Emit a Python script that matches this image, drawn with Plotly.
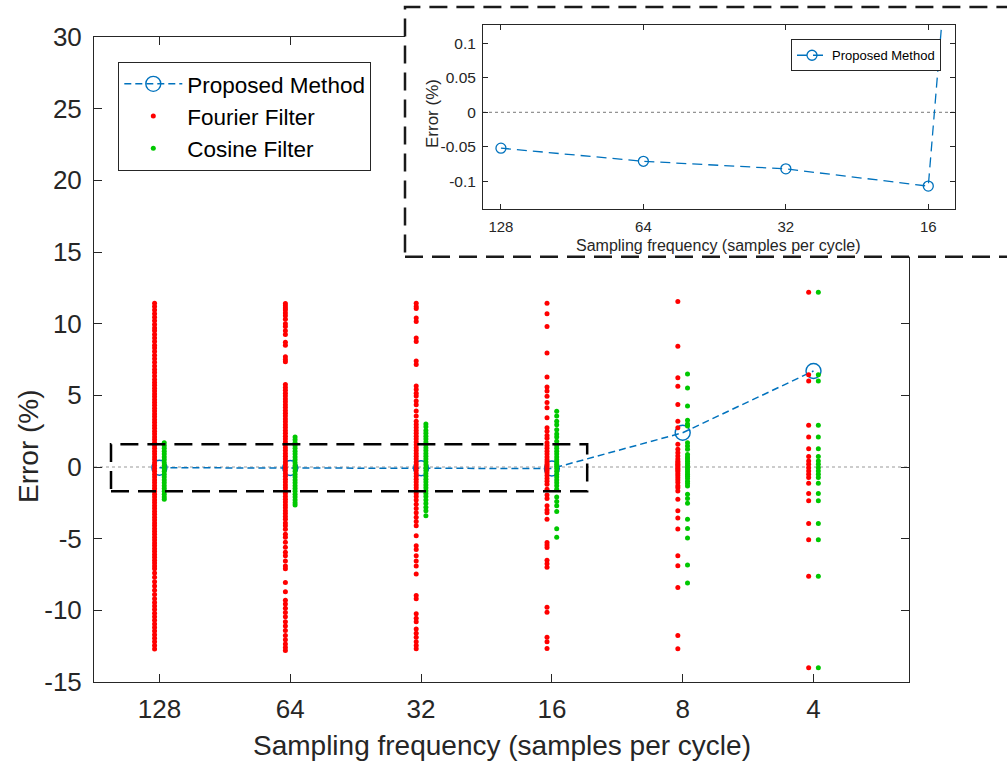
import plotly.graph_objects as go

# ---------------- data ----------------
categories = ["128", "64", "32", "16", "8", "4"]
proposed = [-0.052, -0.071, -0.082, -0.107, 2.39, 6.70]

main_y_ticks = [-15, -10, -5, 0, 5, 10, 15, 20, 25, 30]
main_y_ticktext = ["-15", "-10", "-5", "0", "5", "10", "15", "20", "25", "30"]
inset_y_ticks = [-0.1, -0.05, 0, 0.05, 0.1]
inset_y_ticktext = ["-0.1", "-0.05", "0", "0.05", "0.1"]

fourier_128 = [11.42, 11.2, 10.95, 10.7, 10.45, 10.2, 9.95, 9.7, 9.5, 9.25, 9.0, 8.75, 8.5, 8.3,
               8.05, 7.8, 7.55, 7.3, 7.05, 6.8, 6.6, 6.35, 6.1, 5.9, 5.7, 5.5, 5.3, 5.1, 4.9, 4.7,
               4.5, 4.3, 4.1, 3.9, 3.7, 3.5, 3.3, 3.1, 2.9, 2.7, 2.5, 2.3, 2.1, 1.9, 1.7, 1.5, 1.3,
               1.1, 0.9, 0.7, 0.5, 0.3, 0.1, -0.1, -0.3, -0.5, -0.7, -0.9, -1.1, -1.3, -1.5, -1.7,
               -1.9, -2.1, -2.3, -2.5, -2.7, -2.9, -3.1, -3.3, -3.5, -3.7, -3.9, -4.1, -4.3, -4.5,
               -4.7, -4.9, -5.1, -5.3, -5.5, -5.7, -5.9, -6.1, -6.3, -6.5, -6.7, -6.9, -7.1, -7.4,
               -7.7, -8.0, -8.3, -8.6, -8.9, -9.2, -9.45, -9.7, -9.95, -10.2, -10.45, -10.7,
               -10.95, -11.2, -11.45, -11.7, -11.95, -12.2, -12.45, -12.7]
cosine_128 = [1.7, 1.5, 1.3, 1.1, 0.9, 0.7, 0.5, 0.3, 0.1, -0.1, -0.3, -0.5, -0.7, -0.9, -1.1,
              -1.3, -1.5, -1.7, -1.9, -2.1, -2.25]

fourier_64 = [11.4, 11.25, 11.1, 10.95, 10.75, 10.55, 10.3, 10.0, 9.8, 9.5, 9.25, 8.7, 8.5, 7.7,
              7.5, 7.35, 5.75, 5.55, 5.35, 5.15, 4.95, 4.75, 4.55, 4.35, 4.15, 3.95, 3.75, 3.55,
              3.35, 3.15, 2.95, 2.75, 2.55, 2.35, 2.15, 1.95, 1.75, 1.55, 1.35, 1.15, 0.95, 0.75,
              0.55, 0.35, 0.15, -0.05, -0.25, -0.45, -0.65, -0.85, -1.05, -1.25, -1.45, -1.65,
              -1.85, -2.05, -2.25, -2.45, -2.65, -2.85, -3.05, -3.25, -3.45, -3.64, -3.9, -4.1,
              -4.35, -4.7, -4.9, -5.25, -5.6, -5.95, -6.2, -6.55, -6.9, -7.1, -8.05, -8.7, -9.3,
              -9.55, -9.85, -10.15, -10.45, -10.8, -11.1, -11.4, -11.75, -12.05, -12.35, -12.6,
              -12.8]
cosine_64 = [2.1, 1.9, 1.7, 1.5, 1.3, 1.1, 0.9, 0.7, 0.5, 0.3, 0.1, -0.1, -0.3, -0.5, -0.7, -0.9,
             -1.1, -1.3, -1.5, -1.7, -1.9, -2.1, -2.3, -2.5, -2.65]

fourier_32 = [11.43, 11.2, 11.05, 10.4, 10.15, 9.0, 8.75, 7.4, 7.15, 5.65, 5.4, 5.15, 4.95, 4.6,
              4.35, 3.9, 3.55, 3.2, 2.97, 2.75, 2.55, 2.35, 2.15, 1.95, 1.75, 1.55, 1.35, 1.15,
              0.95, 0.75, 0.55, 0.35, 0.15, -0.05, -0.25, -0.45, -0.65, -0.85, -1.05, -1.25,
              -1.45, -1.65, -1.85, -2.05, -2.3, -2.6, -2.9, -3.2, -3.5, -3.8, -4.1, -4.8, -5.5,
              -5.75, -6.2, -6.55, -6.9, -7.46, -8.96, -9.2, -10.24, -10.55, -10.8, -11.3, -11.6,
              -11.87, -12.2, -12.45, -12.68]
cosine_32 = [3.0, 2.8, 2.55, 2.35, 2.15, 1.95, 1.75, 1.55, 1.35, 1.15, 0.95, 0.75, 0.55, 0.35,
             0.15, -0.05, -0.25, -0.45, -0.65, -0.85, -1.05, -1.25, -1.45, -1.65, -1.85, -2.05,
             -2.3, -2.55, -2.8, -3.05, -3.4]

fourier_16 = [11.43, 10.69, 9.81, 7.95, 6.28, 5.59, 5.3, 4.94, 4.5, 4.13, 3.43, 2.74, 2.5, 2.2,
              2.0, 1.7, 1.5, 1.3, 1.1, 0.9, 0.7, 0.5, 0.35, 0.2, 0.05, -0.1, -0.25, -0.4, -0.6,
              -0.8, -1.0, -1.2, -1.55, -1.96, -2.2, -2.7, -3.0, -3.2, -3.64, -5.26, -5.45, -5.61,
              -6.5, -6.75, -7.0, -9.78, -10.13, -11.87, -12.2, -12.67]
cosine_16 = [3.89, 3.55, 3.2, 2.95, 2.6, 2.3, 2.1, 1.8, 1.5, 1.3, 1.1, 0.9, 0.7, 0.5, 0.35, 0.2,
             0.05, -0.1, -0.3, -0.5, -0.7, -0.9, -1.1, -1.3, -1.55, -2.1, -2.4, -2.7, -3.1,
             -4.3, -4.9]

fourier_8 = [11.55, 8.42, 6.22, 5.64, 4.36, 3.2, 2.74, 1.58, 1.23, 1.0, 0.77, 0.55, 0.4, 0.3,
             0.2, 0.1, 0.0, -0.1, -0.2, -0.3, -0.45, -0.6, -0.75, -0.9, -1.09, -1.3, -1.44,
             -1.67, -2.25, -3.06, -3.55, -4.33, -6.19, -6.89, -8.4, -11.75, -12.68]
cosine_8 = [6.49, 5.52, 4.25, 3.27, 3.0, 2.86, 1.7, 1.46, 1.23, 0.88, 0.7, 0.55, 0.4, 0.25, 0.1,
            -0.05, -0.2, -0.35, -0.5, -0.65, -0.8, -1.0, -1.15, -1.32, -1.9, -2.2, -2.53,
            -3.64, -4.29, -4.96, -6.84, -8.09]

fourier_4 = [12.19, 6.44, 6.0, 2.91, 2.1, 1.28, 0.73, 0.42, 0.19, -0.05, -0.28, -0.51, -0.74,
             -1.13, -1.85, -2.36, -3.94, -5.07, -7.62, -14.0]
cosine_4 = [12.19, 6.44, 6.0, 2.91, 2.1, 1.28, 0.73, 0.42, 0.19, -0.05, -0.28, -0.51, -0.74,
            -1.13, -1.85, -2.36, -3.94, -5.07, -7.62, -14.0]

fourier_sets = [fourier_128, fourier_64, fourier_32, fourier_16, fourier_8, fourier_4]
cosine_sets = [cosine_128, cosine_64, cosine_32, cosine_16, cosine_8, cosine_4]

# ---------------- styling ----------------
W, H = 1007, 767
AX = "#262626"
BLUE = "#0072BD"
RED = "#FF0000"
GREEN = "#00C800"
FONT = "Liberation Sans, Arial, sans-serif"
OFFSET = 0.037

pos = list(range(1, len(categories) + 1))

fx, fy, cx, cy = [], [], [], []
for p, vals in zip(pos, fourier_sets):
    fx += [p - OFFSET] * len(vals)
    fy += vals
for p, vals in zip(pos, cosine_sets):
    cx += [p + OFFSET] * len(vals)
    cy += vals

fig = go.Figure()

fig.add_trace(go.Scatter(
    x=pos, y=proposed, mode="lines+markers", name="Proposed Method",
    line=dict(color=BLUE, width=1.5, dash="7px,4px"),
    marker=dict(symbol="circle-open", size=15, color=BLUE, line=dict(width=1.4, color=BLUE)),
    legend="legend"))
fig.add_trace(go.Scatter(
    x=fx, y=fy, mode="markers", name="Fourier Filter",
    marker=dict(size=5, color=RED), legend="legend"))
fig.add_trace(go.Scatter(
    x=cx, y=cy, mode="markers", name="Cosine Filter",
    marker=dict(size=5, color=GREEN), legend="legend"))

# cover subplot (white background for inset box)
fig.add_trace(go.Scatter(x=[None], y=[None], xaxis="x2", yaxis="y2",
                         showlegend=False, hoverinfo="skip"))

# inset
fig.add_trace(go.Scatter(
    x=pos, y=proposed, mode="lines+markers", name="Proposed Method",
    xaxis="x3", yaxis="y3",
    line=dict(color=BLUE, width=1.3, dash="10px,6px"),
    marker=dict(symbol="circle-open", size=10, color=BLUE, line=dict(width=1.3, color=BLUE)),
    legend="legend2"))

def px_x(v):
    return v / W

def px_y(v):
    return 1 - v / H

main_x_rng = [0.5, 6.73]
main_y_rng = [-15, 30]
ins_x_rng = [0.874, 4.1875]
ins_y_rng = [-0.1406, 0.1265]

common_axis = dict(showline=True, linecolor=AX, linewidth=1, mirror="ticks",
                   ticks="inside", tickcolor=AX, tickwidth=1, showgrid=False,
                   zeroline=False, color=AX, automargin=False)

fig.update_layout(
    width=W, height=H,
    margin=dict(l=0, r=0, t=0, b=0, autoexpand=False),
    paper_bgcolor="white", plot_bgcolor="white",
    font=dict(family=FONT, color=AX),
    xaxis=dict(domain=[px_x(94), px_x(909)], range=main_x_rng, tickvals=pos,
               ticktext=categories, ticklen=8, tickfont=dict(size=26),
               ticklabelstandoff=4, anchor="y", **common_axis),
    yaxis=dict(domain=[px_y(682), px_y(37)], range=main_y_rng,
               tickvals=main_y_ticks, ticktext=main_y_ticktext, ticklen=8,
               tickfont=dict(size=26), ticklabelstandoff=6, anchor="x", **common_axis),
    xaxis2=dict(domain=[px_x(405), 1.0], range=[0, 1], visible=False, anchor="y2",
                automargin=False),
    yaxis2=dict(domain=[px_y(256.7), px_y(7)], range=[0, 1], visible=False, anchor="x2",
                automargin=False),
    xaxis3=dict(domain=[px_x(483), px_x(955)], range=ins_x_rng, tickvals=pos[:4],
                ticktext=categories[:4], ticklen=5, tickfont=dict(size=15),
                ticklabelstandoff=4, anchor="y3", **common_axis),
    yaxis3=dict(domain=[px_y(209.3), px_y(25)], range=ins_y_rng,
                tickvals=inset_y_ticks, ticktext=inset_y_ticktext, ticklen=5,
                tickfont=dict(size=15.5), ticklabelstandoff=3, anchor="x3", **common_axis),
    legend=dict(x=px_x(118.3), y=px_y(61.7), xanchor="left", yanchor="top",
                bgcolor="white", bordercolor=AX, borderwidth=1, itemwidth=58,
                font=dict(size=22.5, color="black"), tracegroupgap=0),
    legend2=dict(x=px_x(941), y=px_y(39.3), xanchor="right", yanchor="top",
                 bgcolor="white", bordercolor=AX, borderwidth=1,
                 font=dict(size=13, color="black")),
    showlegend=True,
)

# zero reference lines
fig.add_shape(type="line", xref="x", yref="y", x0=main_x_rng[0], x1=main_x_rng[1], y0=0, y1=0,
              line=dict(color="#999999", width=1, dash="dot"), layer="below")
fig.add_shape(type="line", xref="x3", yref="y3", x0=ins_x_rng[0], x1=ins_x_rng[1], y0=0, y1=0,
              line=dict(color="#777777", width=1, dash="dot"), layer="below")

# zoom rectangle in main plot
fig.add_shape(type="rect", xref="x", yref="y", x0=0.63, x1=4.27, y0=-1.70, y1=1.58,
              line=dict(color="black", width=2.5, dash="18px,9px"), layer="above")
# inset frame
fig.add_shape(type="rect", xref="paper", yref="paper", x0=px_x(405), x1=1.05,
              y0=px_y(256.7), y1=px_y(7),
              line=dict(color="#1a1a1a", width=2.5, dash="18px,9px"), layer="above")

# axis titles
fig.add_annotation(text="Sampling frequency (samples per cycle)", xref="paper", yref="paper",
                   x=px_x(502), y=px_y(745), showarrow=False, xanchor="center", yanchor="middle",
                   font=dict(size=28, color=AX))
fig.add_annotation(text="Error (%)", xref="paper", yref="paper", textangle=-90,
                   x=px_x(28), y=px_y(446), showarrow=False, xanchor="center", yanchor="middle",
                   font=dict(size=28, color=AX))
fig.add_annotation(text="Sampling frequency (samples per cycle)", xref="paper", yref="paper",
                   x=px_x(718.5), y=px_y(246), showarrow=False, xanchor="center",
                   yanchor="middle", font=dict(size=16, color=AX))
fig.add_annotation(text="Error (%)", xref="paper", yref="paper", textangle=-90,
                   x=px_x(432), y=px_y(114), showarrow=False, xanchor="center",
                   yanchor="middle", font=dict(size=17, color=AX))

fig.write_html("out.html")
